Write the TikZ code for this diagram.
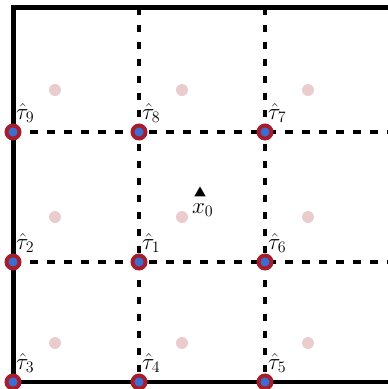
\documentclass[tikz,border=0pt]{standalone}
\usepackage{graphicx}
\usetikzlibrary{shapes.geometric}
\definecolor{ringred}{RGB}{165,30,45}
\definecolor{dotblue}{RGB}{60,110,210}
\definecolor{pinkdot}{RGB}{234,204,206}
\newcommand{\biglab}[1]{\scalebox{1.33}{\fontsize{17.28}{20}\selectfont$#1$}}
\begin{document}
\begin{tikzpicture}[x=1pt,y=-1pt,
  gridline/.style={line width=3.2pt, dash pattern=on 7.5pt off 9.5pt},
  frame/.style={line width=4.5pt},
  est/.style={circle, draw=ringred, fill=dotblue, line width=4pt, minimum size=13pt, inner sep=0pt},
  pdot/.style={circle, fill=pinkdot, minimum size=12pt, inner sep=0pt},
  lab/.style={anchor=base west, inner sep=0pt},
  tri/.style={regular polygon, regular polygon sides=3, fill=black, minimum size=13pt, inner sep=0pt}]
\useasboundingbox (0,0) rectangle (388,389);
\clip (0,0) rectangle (388,389);
% corner coordinates
\coordinate (tl) at (13.5,7.5);
\coordinate (bl) at (13.5,382);
\coordinate (tr) at (400,7.5);
\coordinate (br) at (400,382);
\coordinate (v1t) at (139,7.5);
\coordinate (v2t) at (265,7.5);
\coordinate (h1r) at (400,132);
\coordinate (h2r) at (400,262);
% estimate points
\coordinate (p9) at (13,132);
\coordinate (p8) at (139,132);
\coordinate (p7) at (265,132);
\coordinate (p2) at (13,262);
\coordinate (p1) at (139,262);
\coordinate (p6) at (265,262);
\coordinate (p3) at (13,382);
\coordinate (p4) at (139,382);
\coordinate (p5) at (265,382);
% dashed grid
\draw[gridline] (v1t) -- (p4);
\draw[gridline] (v2t) -- (p5);
\draw[gridline] (p9) -- (h1r);
\draw[gridline] (p2) -- (h2r);
% frame
\draw[frame] (tr) -- (tl) -- (bl) -- (br);
% pink dots
\foreach \x/\y [count=\i] in {55/90,182/90,308/90,55/217,182/217,308/217,55/343,182/343,308/343}
  \node[pdot] (d\i) at (\x,\y) {};
% triangle and label
\node[tri] (x0) at (200,193) {};
\node[lab] (x0l) at (192,213) {\biglab{x_0}};
% estimates
\foreach \k in {1,...,9} {
  \node[est] (t\k) at (p\k) {};
}
\foreach \k in {1,...,9} {
  \node[lab] (l\k) at ([xshift=3pt,yshift=13pt]p\k) {\biglab{\hat{\tau}_{\k}}};
}
\end{tikzpicture}
\end{document}
